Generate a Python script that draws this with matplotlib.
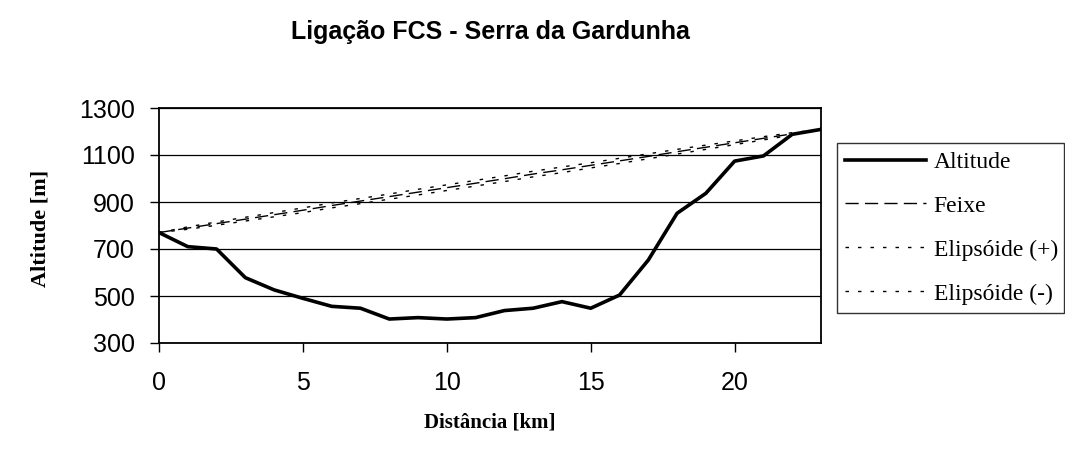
import numpy as np
import matplotlib.pyplot as plt

# distance along the link [km]
dist = list(range(0, 24))
# terrain profile [m]
altitude = [770, 710, 700, 578, 526, 490, 456, 448, 402, 408, 402, 408,
            438, 448, 476, 448, 504, 653, 852, 937, 1074, 1096, 1188, 1209]
# line of sight
feixe = [770, 789, 808, 827, 846, 865, 885, 904, 923, 942, 961, 980,
         999, 1019, 1037, 1056, 1075, 1094, 1114, 1133, 1152, 1171, 1190, 1209]
# upper / lower ellipsoid
elip_mais = [770, 794, 815, 835, 855, 875, 896, 915, 934, 954, 973, 992,
             1011, 1031, 1049, 1067, 1086, 1105, 1124, 1142, 1160, 1178, 1195, 1209]
elip_menos = [770, 784, 801, 819, 837, 855, 875, 893, 912, 930, 949, 968,
              987, 1007, 1025, 1045, 1064, 1084, 1104, 1124, 1144, 1164, 1185, 1209]

sans = 'Liberation Sans'
serif = 'Liberation Serif'

fig = plt.figure(figsize=(10.65, 4.63), dpi=100)
ax = fig.add_axes([159/1065, 1 - 343/463, (821-159)/1065, (343-108)/463])

ax.plot(dist, altitude, color='k', lw=2.6, label='Altitude', zorder=5)
ax.plot(dist, feixe, color='k', lw=1.0, ls=(0, (9.5, 4.5)), label='Feixe', zorder=4)
ax.plot(dist, elip_mais, color='k', lw=1.0, ls=(0, (2.5, 6.5)), label='Elipsóide (+)', zorder=4)
ax.plot(dist, elip_menos, color='k', lw=1.0, ls=(0, (2.5, 6.5)), label='Elipsóide (-)', zorder=4)

ax.set_xlim(0, 23)
ax.set_ylim(300, 1300)
ax.set_xticks([0, 5, 10, 15, 20])
ax.set_yticks([300, 500, 700, 900, 1100, 1300])
ax.yaxis.grid(True, color='k', lw=0.9)
ax.set_axisbelow(True)
for s in ax.spines.values():
    s.set_color('k')
    s.set_linewidth(1.3)
ax.tick_params(direction='out', length=6.5, width=1, colors='k')
ax.tick_params(axis='x', pad=14)
ax.tick_params(axis='y', pad=11)
for lbl in ax.get_xticklabels() + ax.get_yticklabels():
    lbl.set_fontfamily(sans)
    lbl.set_fontsize(18)

fig.text(490/1065, 1 - 32/463, 'Ligação FCS - Serra da Gardunha', ha='center', va='center',
         fontfamily=sans, fontweight='bold', fontsize=18)
fig.text(490/1065, 1 - 422/463, 'Distância [km]', ha='center', va='center',
         fontfamily=serif, fontweight='bold', fontsize=15)
fig.text(40/1065, 1 - 228/463, 'Altitude [m]', ha='center', va='center', rotation=90,
         fontfamily=serif, fontweight='bold', fontsize=16)

leg = fig.legend(loc='upper left', bbox_to_anchor=(837/1065, 1 - 310/463, 227/1065, 167/463),
                 mode='expand', borderaxespad=0, fancybox=False, handlelength=3.4,
                 labelspacing=0.95, borderpad=0.35, handletextpad=0.35,
                 prop={'family': serif, 'size': 17})
leg.get_frame().set_edgecolor('k')
leg.get_frame().set_linewidth(1.0)

fig.savefig('out.png', dpi=100)
